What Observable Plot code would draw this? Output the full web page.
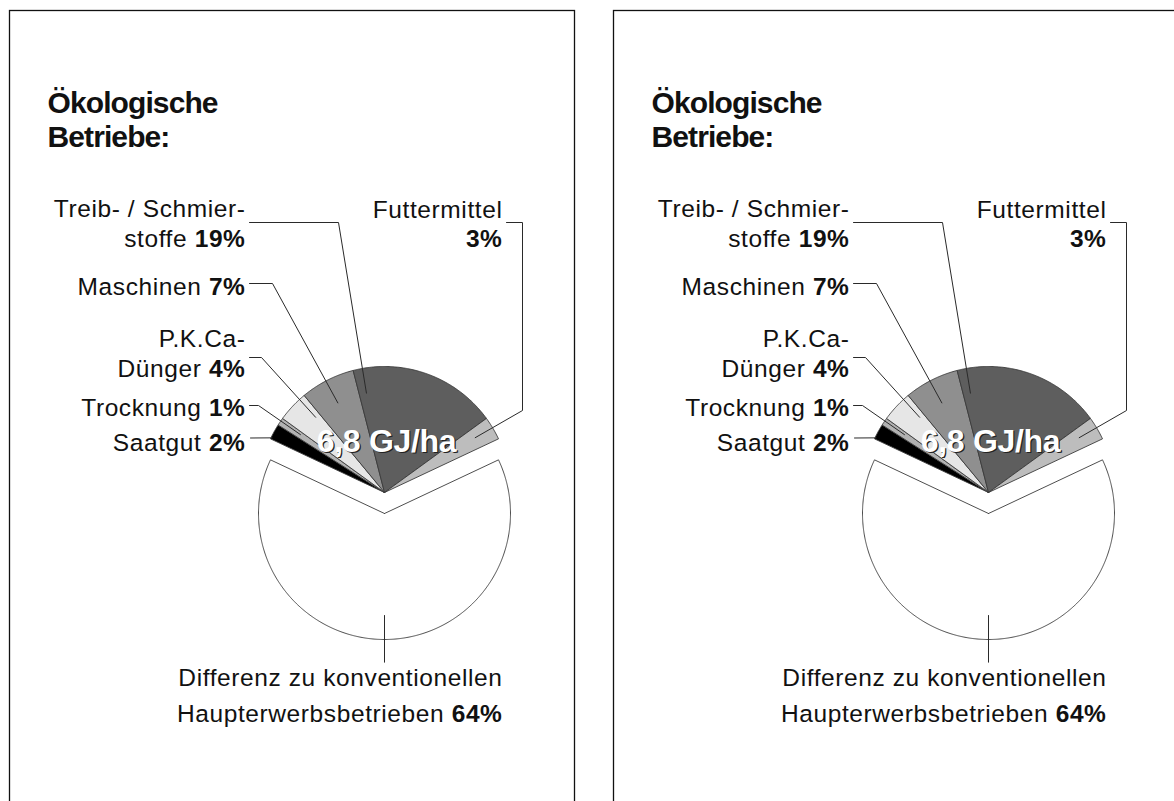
<!DOCTYPE html>
<html><head><meta charset="utf-8">
<script src="https://cdn.jsdelivr.net/npm/d3@7"></script>
<script src="https://cdn.jsdelivr.net/npm/@observablehq/plot@0.6"></script>
<style>
html,body{margin:0;padding:0;background:#fff;overflow:hidden;width:1174px;height:801px;}
.panel{position:absolute;top:0;width:590px;height:801px;}
.panel svg{max-width:none !important;width:590px !important;height:801px !important;}
</style></head><body>
<div id="p0" class="panel" style="left:0px"></div>
<div id="p1" class="panel" style="left:604.4px"></div>
<script>
// ---------- data ----------
const categories = ["Saatgut", "Trocknung", "P.K.Ca-Dünger", "Maschinen", "Treib- / Schmierstoffe", "Futtermittel", "Differenz zu konventionellen Haupterwerbsbetrieben"];
const shares = [2, 1, 4, 7, 19, 3, 64];
const labelStems = ["Saatgut", "Trocknung", "P.K.Ca-\nDünger", "Maschinen", "Treib- / Schmier-\nstoffe", "Futtermittel\n", "Differenz zu konventionellen\nHaupterwerbsbetrieben"];
const titleLines = ["Ökologische", "Betriebe:"];
const totalLabel = "6,8 GJ/ha";

// ---------- styles ----------
const sliceGrays = ["#000000", "#b2b2b2", "#e6e6e6", "#8f8f8f", "#5e5e5e", "#bdbdbd", "#ffffff"];
const FONT = "'Liberation Sans', Arial, sans-serif";
const spacingBySize = {"24.5": "0.6px", "30": "-0.9px", "32": "-0.3px"};

// ---------- layout ----------
const W = 590, H = 801;
const pie = {cx: 384, cy: 492, r: 126, explode: 21};
const frameBox = {x1: 9.5, y1: 10.5, x2: 574.5, y2: 900};
const titlePos = {x: 47, y: 146.7};
const totalPos = {x: 386, y: 451};
const labelLayout = [
  {x: 245, y: 450, path: [[250, 437.5]], t: 0.1, r: 125},
  {x: 245, y: 415, path: [[249, 405], [258, 405]], t: 0.6, r: 102},
  {x: 245, y: 376, path: [[249, 357], [261, 357]], t: 0.8, r: 102},
  {x: 245, y: 294, path: [[249, 283], [272, 283]], t: 0.48, r: 101},
  {x: 245, y: 246, path: [[249, 222], [338, 222]], t: 0.06, r: 101},
  {x: 502, y: 246.7, path: [[506, 222], [522, 222], [522, 410]], t: 0.45, r: 106},
  {x: 502, y: 721, path: [[384, 661.7]], t: 0.5, r: 102}
];

// ---------- geometry from data ----------
const total = d3.sum(shares);
const fanShare = d3.sum(shares.slice(0, shares.length - 1));
let acc = -fanShare / total * 180;
const rad = (a) => a * Math.PI / 180;
const slices = categories.map((name, i) => {
  const a0 = acc, a1 = acc + shares[i] / total * 360;
  acc = a1;
  const mid = (a0 + a1) / 2;
  const ex = i === categories.length - 1 ? pie.explode : 0;
  const cx = pie.cx + ex * Math.sin(rad(mid)), cy = pie.cy - ex * Math.cos(rad(mid));
  return {name, share: shares[i], a0, a1, cx, cy};
});
const polar = (s, a, r) => ({x: s.cx + r * Math.sin(rad(a)), y: s.cy - r * Math.cos(rad(a))});

const slicePts = [];
for (const s of slices) {
  slicePts.push({name: s.name, ...polar(s, 0, 0)});
  const n = Math.max(2, Math.ceil((s.a1 - s.a0) / 0.5));
  for (let k = 0; k <= n; ++k) slicePts.push({name: s.name, ...polar(s, s.a0 + (s.a1 - s.a0) * k / n, pie.r)});
  slicePts.push({name: s.name, ...polar(s, 0, 0)});
}

const leaderPts = [];
slices.forEach((s, i) => {
  const L = labelLayout[i];
  for (const [x, y] of L.path) leaderPts.push({name: s.name, x, y});
  leaderPts.push({name: s.name, ...polar(s, s.a0 + (s.a1 - s.a0) * L.t, L.r)});
});

const labels = slices.map((s, i) => ({
  name: s.name,
  x: labelLayout[i].x, y: labelLayout[i].y,
  text: labelStems[i] + (labelStems[i].endsWith("\n") ? "" : " ") + s.share + "%"
}));
const fanLabels = labels.slice(0, labels.length - 1);
const restLabels = labels.slice(labels.length - 1);

function finishText(svg) {
  const ns = "http://www.w3.org/2000/svg";
  svg.querySelectorAll("g[font-size]").forEach(g => {
    const ls = spacingBySize[g.getAttribute("font-size")];
    if (ls) g.setAttribute("letter-spacing", ls);
  });
  svg.querySelectorAll("text, tspan").forEach(el => {
    if (el.children.length) return;
    const s = el.textContent;
    const m = s.match(/^(.*?)(\d+\s?%)$/);
    if (!m) return;
    el.textContent = m[1];
    const b = document.createElementNS(ns, "tspan");
    b.setAttribute("font-weight", "bold");
    b.textContent = m[2];
    el.appendChild(b);
  });
}

function panel() {
  const svg = Plot.plot({
    width: W, height: H, margin: 0,
    x: {domain: [0, W], range: [0, W], axis: null},
    y: {domain: [0, H], range: [0, H], axis: null},
    color: {domain: categories, range: sliceGrays},
    style: {background: "white", fontFamily: FONT, color: "#111"},
    marks: [
      Plot.rect([frameBox], {x1: "x1", y1: "y1", x2: "x2", y2: "y2", fill: "none", stroke: "#111", strokeWidth: 1.3}),
      Plot.line(slicePts, {x: "x", y: "y", z: "name", fill: "name", stroke: "#3a3a3a", strokeWidth: 0.9}),
      Plot.line(leaderPts, {x: "x", y: "y", z: "name", stroke: "#2a2a2a", strokeWidth: 1}),
      Plot.text([titlePos], {x: "x", y: "y", text: () => titleLines.join("\n"), textAnchor: "start", lineAnchor: "bottom", lineHeight: 1.13, fontSize: 30, fontWeight: "bold", fill: "#111"}),
      Plot.text(fanLabels, {x: "x", y: "y", text: "text", textAnchor: "end", lineAnchor: "bottom", lineHeight: 1.2, fontSize: 24.5, fill: "#111"}),
      Plot.text(restLabels, {x: "x", y: "y", text: "text", textAnchor: "end", lineAnchor: "bottom", lineHeight: 1.43, fontSize: 24.5, fill: "#111"}),
      Plot.text([totalPos], {x: "x", y: "y", text: () => totalLabel, textAnchor: "middle", lineAnchor: "bottom", fontSize: 32, fontWeight: "bold", fill: "#222", dx: 1.3, dy: 1.3}),
      Plot.text([totalPos], {x: "x", y: "y", text: () => totalLabel, textAnchor: "middle", lineAnchor: "bottom", fontSize: 32, fontWeight: "bold", fill: "white"})
    ]
  });
  finishText(svg);
  return svg;
}

document.getElementById("p0").appendChild(panel());
document.getElementById("p1").appendChild(panel());
</script>
</body></html>
